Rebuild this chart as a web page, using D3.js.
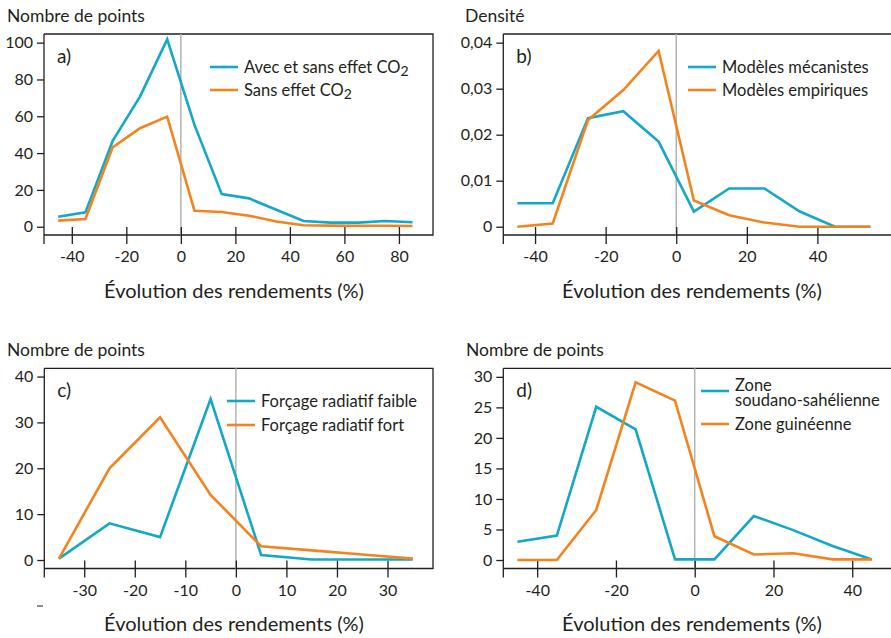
<!DOCTYPE html>
<html>
<head>
<meta charset="utf-8">
<script src="https://cdn.jsdelivr.net/npm/d3@7"></script>
<style>
body { margin: 0; background: #fff; }
text { font-family: Lato, "Open Sans", sans-serif; fill: #231f20; }
</style>
</head>
<body>
<svg id="chart" width="891" height="638"></svg>
<script>
// a) Nombre de points, avec / sans effet CO2
var binsA = [-45, -35, -25, -15, -5, 5, 15, 25, 35, 45, 55, 65, 75, 85];
var avecCO2 = [5.4, 7.8, 46.6, 70.7, 101.8, 55.3, 17.7, 15.4, 9.2, 3.1, 2.2, 2.2, 3.1, 2.4];
var sansCO2 = [3.3, 4.2, 43.1, 53.5, 59.8, 8.7, 8.0, 6.0, 2.8, 0.8, 0.6, 0.5, 0.5, 0.4];
var xTicksA = [-40, -20, 0, 20, 40, 60, 80];
var yTicksA = [0, 20, 40, 60, 80, 100];

// b) Densité, modèles mécanistes / empiriques
var binsB = [-45, -35, -25, -15, -5, 5, 15, 25, 35, 45, 55];
var mecanistes = [0.0051, 0.0051, 0.0236, 0.0251, 0.0185, 0.0033, 0.0083, 0.0083, 0.0033, 0, 0];
var empiriques = [0, 0.0007, 0.0232, 0.0297, 0.0382, 0.0057, 0.0025, 0.0009, 0, 0, 0];
var xTicksB = [-40, -20, 0, 20, 40];
var yTicksB = [0, 0.01, 0.02, 0.03, 0.04];

// c) forçage radiatif
var binsC = [-35, -25, -15, -5, 5, 15, 25, 35];
var faible = [0.3, 8.0, 5.0, 35.1, 1.1, 0.1, 0.1, 0.1];
var fort = [0.3, 20.0, 31.1, 14.2, 3.0, 2.1, 1.2, 0.3];
var xTicksC = [-30, -20, -10, 0, 10, 20, 30];
var yTicksC = [0, 10, 20, 30, 40];

// d) zones climatiques
var binsD = [-45, -35, -25, -15, -5, 5, 15, 25, 35, 45];
var soudano = [3.0, 4.0, 25.1, 21.4, 0.1, 0.1, 7.2, 4.9, 2.3, 0.1];
var guineenne = [0, 0, 8.2, 29.1, 26.1, 3.9, 0.9, 1.1, 0.1, 0.1];
var xTicksD = [-40, -20, 0, 20, 40];
var yTicksD = [0, 5, 10, 15, 20, 25, 30];

var blue = "#14a8c8", orange = "#f4831f", ink = "#231f20";
var svg = d3.select("#chart");

function panel(p) {
    var g = svg.append("g");
    var x = d3.scaleLinear().domain(p.xDomain).range([p.left, p.right]);
    var y = d3.scaleLinear().domain(p.yDomain).range([p.bottom, p.top]);

    // frame (left side is drawn as the axis line)
    g.append("path")
        .attr("d", "M" + p.left + "," + p.top + "H" + p.right + "V" + p.bottom + "H" + p.left)
        .attr("fill", "none").attr("stroke", ink).attr("stroke-width", 1.3);
    g.append("line")
        .attr("x1", p.left).attr("x2", p.left)
        .attr("y1", p.top).attr("y2", p.bottom + 9)
        .attr("stroke", ink).attr("stroke-width", 1.3);

    // zero line
    g.append("line")
        .attr("x1", x(0)).attr("x2", x(0))
        .attr("y1", p.top).attr("y2", p.bottom)
        .attr("stroke", "#b3b3b3").attr("stroke-width", 1.5);

    // x axis
    var xa = g.append("g")
        .attr("transform", "translate(0," + (p.bottom - 8) + ")")
        .call(d3.axisBottom(x).tickValues(p.xTicks).tickSize(17).tickPadding(7)
            .tickFormat(function (d) { return String(d); }));
    xa.select(".domain").remove();
    xa.selectAll("line").attr("stroke", ink).attr("stroke-width", 1.3);
    xa.selectAll("text").style("font-size", "16px").attr("fill", ink);

    // y axis
    var ya = g.append("g")
        .attr("transform", "translate(" + p.left + ",0)")
        .call(d3.axisLeft(y).tickValues(p.yTicks).tickSize(7).tickPadding(4)
            .tickFormat(p.yFormat));
    ya.select(".domain").remove();
    ya.selectAll("line").attr("stroke", ink).attr("stroke-width", 1.3);
    ya.selectAll("text").style("font-size", "16px").attr("fill", ink);

    // series
    var line = d3.line()
        .x(function (d) { return x(d[0]); })
        .y(function (d) { return y(d[1]); });
    p.series.forEach(function (s) {
        g.append("path")
            .datum(d3.zip(s.bins, s.values))
            .attr("d", line)
            .attr("fill", "none")
            .attr("stroke", s.color)
            .attr("stroke-width", 2.6);
    });

    // texts
    g.append("text").attr("x", p.titleX).attr("y", p.titleY)
        .style("font-size", "17.5px").text(p.title);
    g.append("text").attr("x", p.left + 13).attr("y", p.top + 29)
        .style("font-size", "19px").text(p.tag);
    g.append("text").attr("x", p.xLabelX).attr("y", p.xLabelY)
        .attr("text-anchor", "middle")
        .style("font-size", "20px").text("Évolution des rendements (%)");

    // legend
    p.series.forEach(function (s) {
        g.append("line")
            .attr("x1", p.legX).attr("x2", p.legX + 28)
            .attr("y1", s.legY).attr("y2", s.legY)
            .attr("stroke", s.color).attr("stroke-width", 2.6);
        var t = g.append("text")
            .attr("x", p.legX + 34)
            .attr("y", s.label.length > 1 ? s.legY : s.legY + 6)
            .style("font-size", "16.5px");
        s.label.forEach(function (part, i) {
            if (i > 0) {
                t.append("tspan").attr("x", p.legX + 34).attr("dy", 15).text(part);
            } else if (part.indexOf("CO2") >= 0) {
                t.append("tspan").text(part.replace("CO2", "CO"));
                t.append("tspan").attr("dy", 3).style("font-size", "14px").text("2");
            } else {
                t.append("tspan").text(part);
            }
        });
    });
}

function plainFmt(d) { return String(d); }
function commaFmt(d) { return d === 0 ? "0" : d3.format(".2f")(d).replace(".", ","); }

panel({
    left: 44, right: 433, top: 34, bottom: 235,
    xDomain: [-50.2, 92.5], yDomain: [-4.5, 104.7],
    xTicks: xTicksA, yTicks: yTicksA, yFormat: plainFmt,
    title: "Nombre de points", titleX: 7, titleY: 22, tag: "a)",
    xLabelX: 234, xLabelY: 298, legX: 210,
    series: [
        {bins: binsA, values: avecCO2, color: blue, legY: 67, label: ["Avec et sans effet CO2"]},
        {bins: binsA, values: sansCO2, color: orange, legY: 90, label: ["Sans effet CO2"]}
    ]
});

panel({
    left: 503.3, right: 894, top: 34, bottom: 235,
    xDomain: [-49, 61.7], yDomain: [-0.0018, 0.04188],
    xTicks: xTicksB, yTicks: yTicksB, yFormat: commaFmt,
    title: "Densité", titleX: 465, titleY: 22, tag: "b)",
    xLabelX: 692, xLabelY: 298, legX: 688,
    series: [
        {bins: binsB, values: mecanistes, color: blue, legY: 67, label: ["Modèles mécanistes"]},
        {bins: binsB, values: empiriques, color: orange, legY: 90, label: ["Modèles empiriques"]}
    ]
});

panel({
    left: 44.3, right: 433, top: 368.3, bottom: 568.5,
    xDomain: [-37.9, 39.0], yDomain: [-1.85, 41.8],
    xTicks: xTicksC, yTicks: yTicksC, yFormat: plainFmt,
    title: "Nombre de points", titleX: 7, titleY: 356, tag: "c)",
    xLabelX: 234, xLabelY: 631, legX: 227,
    series: [
        {bins: binsC, values: faible, color: blue, legY: 401, label: ["Forçage radiatif faible"]},
        {bins: binsC, values: fort, color: orange, legY: 425, label: ["Forçage radiatif fort"]}
    ]
});

panel({
    left: 503.3, right: 894, top: 368.3, bottom: 568.5,
    xDomain: [-48.6, 50.6], yDomain: [-1.39, 31.4],
    xTicks: xTicksD, yTicks: yTicksD, yFormat: plainFmt,
    title: "Nombre de points", titleX: 466, titleY: 356, tag: "d)",
    xLabelX: 692, xLabelY: 631, legX: 701,
    series: [
        {bins: binsD, values: soudano, color: blue, legY: 391, label: ["Zone", "soudano-sahélienne"]},
        {bins: binsD, values: guineenne, color: orange, legY: 424, label: ["Zone guinéenne"]}
    ]
});

// small stray dash under panel c
svg.append("line")
    .attr("x1", 37).attr("x2", 43).attr("y1", 606).attr("y2", 606)
    .attr("stroke", ink).attr("stroke-width", 1);
</script>
</body>
</html>
